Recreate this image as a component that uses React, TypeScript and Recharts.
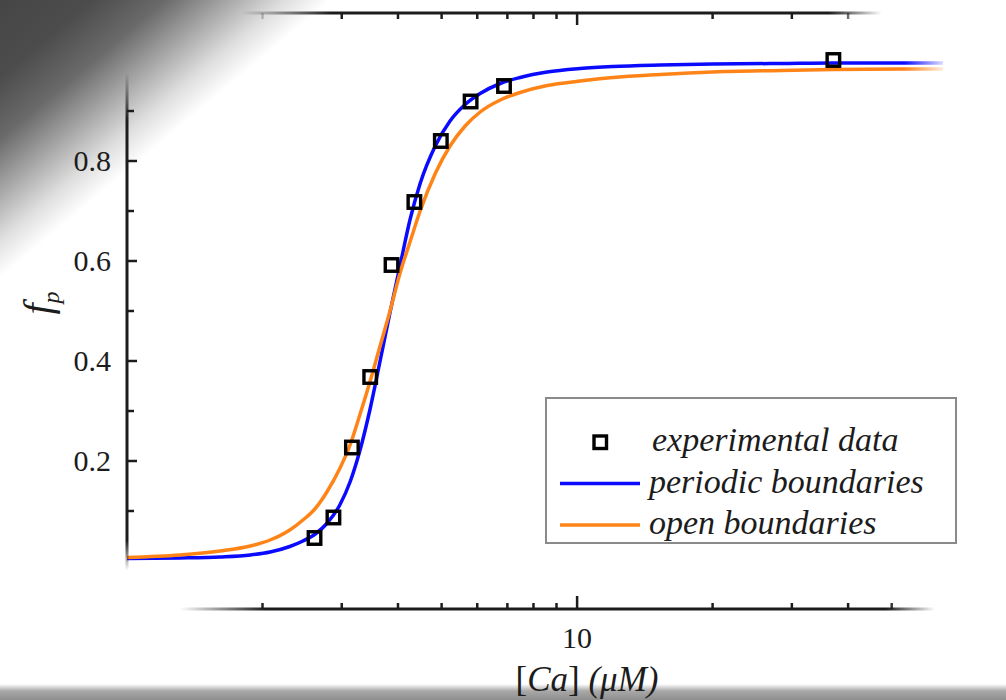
import { ComposedChart, Line, Scatter, XAxis, YAxis } from "recharts";

const caGrid = [
  1, 1.31, 1.61, 1.88, 2.08, 2.3, 2.46, 2.62, 2.78, 2.97, 3.13, 3.29, 3.47,
  3.65, 3.84, 4.04, 4.26, 4.48, 4.84, 5.22, 5.64, 6.09, 6.75, 7.47, 8.58,
  10.15, 12, 15.3, 20, 28.3, 37, 52, 65,
];
const periodicFp = [
  0.005, 0.006, 0.008, 0.012, 0.018, 0.029, 0.04, 0.054, 0.075, 0.112, 0.158,
  0.22, 0.305, 0.4, 0.497, 0.59, 0.685, 0.755, 0.83, 0.88, 0.913, 0.935, 0.955,
  0.967, 0.978, 0.985, 0.989, 0.992, 0.994, 0.995, 0.996, 0.996, 0.996,
];
const openFp = [
  0.007, 0.012, 0.02, 0.03, 0.042, 0.062, 0.082, 0.105, 0.138, 0.185, 0.232,
  0.292, 0.36, 0.43, 0.5, 0.575, 0.64, 0.7, 0.775, 0.83, 0.87, 0.898, 0.922,
  0.937, 0.951, 0.96, 0.967, 0.973, 0.978, 0.981, 0.983, 0.984, 0.984,
];
const expCa = [2.61, 2.875, 3.16, 3.47, 3.87, 4.35, 4.98, 5.8, 6.88, 37.1];
const expFp = [0.046, 0.087, 0.227, 0.368, 0.592, 0.718, 0.84, 0.919, 0.95, 1.002];

const xTicks = [2, 3, 4, 5, 6, 7, 8, 9, 10, 20, 30, 40, 50];
const yTicks = [0.1, 0.2, 0.3, 0.4, 0.5, 0.6, 0.7, 0.8, 0.9];

const periodicData = caGrid.map((x, i) => ({ x, y: periodicFp[i] }));
const openData = caGrid.map((x, i) => ({ x, y: openFp[i] }));
const expData = expCa.map((x, i) => ({ x, y: expFp[i] }));

const FONT = '"Liberation Serif", "Times New Roman", serif';
const INK = "#1c1c1c";
const BLUE = "#0a0aff";
const ORANGE = "#ff8418";

const BottomTick = (props: any) => {
  const { x, y, payload } = props;
  const major = payload.value === 10;
  return (
    <g>
      <line x1={x} x2={x} y1={y} y2={y - (major ? 13 : 6)} stroke="url(#fadeBottom)" strokeWidth={2.5} />
      {major && (
        <text x={x} y={y + 39} textAnchor="middle" fontSize={30} fontFamily={FONT} fill={INK}>
          {payload.value}
        </text>
      )}
    </g>
  );
};

const TopTick = (props: any) => {
  const { x, y, payload } = props;
  const major = payload.value === 10;
  return <line x1={x} x2={x} y1={y} y2={y + (major ? 12 : 6)} stroke="url(#fadeTop)" strokeWidth={2.5} />;
};

const LeftTick = (props: any) => {
  const { x, y, payload } = props;
  const major = Math.round(payload.value * 10) % 2 === 0;
  return (
    <g>
      <line x1={x} x2={x + (major ? 10 : 7)} y1={y} y2={y} stroke={INK} strokeWidth={2.5} />
      {major && (
        <text x={x - 16} y={y + 10} textAnchor="end" fontSize={30} fontFamily={FONT} fill={INK}>
          {payload.value.toFixed(1)}
        </text>
      )}
    </g>
  );
};

const SquareDot = (props: any) => {
  const { cx, cy } = props;
  return <rect x={cx - 6.25} y={cy - 6.25} width={12.5} height={12.5} fill="none" stroke="#000" strokeWidth={3.4} />;
};

const XLabel = (props: any) => {
  const { viewBox } = props;
  return (
    <text x={viewBox.x + 460} y={viewBox.y + 82} textAnchor="middle" fontSize={35} fontFamily={FONT} fill={INK}>
      <tspan>[</tspan>
      <tspan fontStyle="italic">Ca</tspan>
      <tspan>] </tspan>
      <tspan fontStyle="italic">(μM)</tspan>
    </text>
  );
};

const YLabel = (props: any) => {
  const { viewBox } = props;
  const cx = viewBox.x + 24;
  const cy = viewBox.y + 290;
  return (
    <text transform={`translate(${cx},${cy}) rotate(-90)`} textAnchor="middle" fontSize={40} fontFamily={FONT} fontStyle="italic" fill={INK}>
      f<tspan fontSize={24} dy={8}>p</tspan>
    </text>
  );
};

const legendItems = [
  { name: "experimental data", kind: "square", color: "#000" },
  { name: "periodic boundaries", kind: "line", color: BLUE },
  { name: "open boundaries", kind: "line", color: ORANGE },
];

function LegendBox() {
  return (
    <svg width={412} height={148} style={{ position: "absolute", left: 545, top: 397 }}>
      <rect x={1} y={1} width={410} height={145} fill="#fff" stroke="#8a8a8a" strokeWidth={2} />
      {legendItems.map((it, i) => {
        const cy = 45 + i * 41.5;
        return (
          <g key={it.name}>
            {it.kind === "square" ? (
              <rect x={49} y={cy - 6} width={12.5} height={12.5} fill="none" stroke={it.color} strokeWidth={3.4} />
            ) : (
              <line x1={15} x2={95} y1={cy} y2={cy} stroke={it.color} strokeWidth={3.5} />
            )}
            <text x={it.kind === "square" ? 107 : 104} y={cy + 9} fontSize={34} fontFamily={FONT} fontStyle="italic" fill={INK}>
              {it.name}
            </text>
          </g>
        );
      })}
    </svg>
  );
}

export default function App() {
  return (
    <div
      style={{
        position: "absolute",
        left: 0,
        top: 0,
        width: 1006,
        height: 700,
        overflow: "hidden",
        background:
          "linear-gradient(to bottom, rgba(170,170,170,0) 684px, #a8a8a8 691px, #8e8e8e 700px), linear-gradient(140deg, #464646 0%, #4c4c4c 5%, #6a6a6a 9%, #a8a8a8 12.5%, #dedede 15.5%, #ffffff 18%)",
      }}
    >
      <ComposedChart width={1006} height={700} margin={{ top: 12, right: 63, bottom: 0, left: 27 }}>
        <defs>
          <linearGradient id="fadeBottom" gradientUnits="userSpaceOnUse" x1={127} y1={0} x2={943} y2={0}>
            <stop offset="0.065" stopColor={INK} stopOpacity={0} />
            <stop offset="0.17" stopColor={INK} stopOpacity={1} />
            <stop offset="0.93" stopColor={INK} stopOpacity={1} />
            <stop offset="0.99" stopColor={INK} stopOpacity={0} />
          </linearGradient>
          <linearGradient id="fadeTop" gradientUnits="userSpaceOnUse" x1={127} y1={0} x2={943} y2={0}>
            <stop offset="0.14" stopColor={INK} stopOpacity={0} />
            <stop offset="0.25" stopColor={INK} stopOpacity={1} />
            <stop offset="0.86" stopColor={INK} stopOpacity={1} />
            <stop offset="0.925" stopColor={INK} stopOpacity={0} />
          </linearGradient>
          <linearGradient id="fadeLeft" gradientUnits="userSpaceOnUse" x1={0} y1={13} x2={0} y2={609}>
            <stop offset="0.1" stopColor={INK} stopOpacity={0} />
            <stop offset="0.18" stopColor={INK} stopOpacity={1} />
            <stop offset="0.885" stopColor={INK} stopOpacity={1} />
            <stop offset="0.935" stopColor={INK} stopOpacity={0} />
          </linearGradient>
          <linearGradient id="fadeBlue" gradientUnits="userSpaceOnUse" x1={127} y1={0} x2={945} y2={0}>
            <stop offset="0.95" stopColor={BLUE} stopOpacity={1} />
            <stop offset="1" stopColor={BLUE} stopOpacity={0.1} />
          </linearGradient>
          <linearGradient id="fadeOrange" gradientUnits="userSpaceOnUse" x1={127} y1={0} x2={945} y2={0}>
            <stop offset="0.95" stopColor={ORANGE} stopOpacity={1} />
            <stop offset="1" stopColor={ORANGE} stopOpacity={0.1} />
          </linearGradient>
        </defs>
        <XAxis
          xAxisId="bottom"
          dataKey="x"
          type="number"
          scale="log"
          domain={[1, 65]}
          allowDataOverflow
          ticks={xTicks}
          interval={0}
          height={91}
          tickSize={0}
          tickMargin={0}
          tickLine={false}
          tick={BottomTick}
          axisLine={{ stroke: "url(#fadeBottom)", strokeWidth: 3 }}
          label={XLabel}
        />
        <XAxis
          xAxisId="top"
          orientation="top"
          dataKey="x"
          type="number"
          scale="log"
          domain={[1, 65]}
          allowDataOverflow
          ticks={xTicks}
          interval={0}
          height={1}
          tickSize={0}
          tickMargin={0}
          tickLine={false}
          tick={TopTick}
          axisLine={{ stroke: "url(#fadeTop)", strokeWidth: 3 }}
        />
        <YAxis
          yAxisId="left"
          type="number"
          domain={[-0.096, 1.096]}
          allowDataOverflow
          ticks={yTicks}
          interval={0}
          width={100}
          tickSize={0}
          tickMargin={0}
          tickLine={false}
          tick={LeftTick}
          axisLine={{ stroke: "url(#fadeLeft)", strokeWidth: 3 }}
          label={YLabel}
        />
        <Line
          xAxisId="bottom"
          yAxisId="left"
          data={periodicData}
          dataKey="y"
          type="monotone"
          stroke="url(#fadeBlue)"
          strokeWidth={3.5}
          dot={false}
          activeDot={false}
          isAnimationActive={false}
        />
        <Line
          xAxisId="bottom"
          yAxisId="left"
          data={openData}
          dataKey="y"
          type="monotone"
          stroke="url(#fadeOrange)"
          strokeWidth={3.5}
          dot={false}
          activeDot={false}
          isAnimationActive={false}
        />
        <Scatter
          xAxisId="bottom"
          yAxisId="left"
          data={expData}
          dataKey="y"
          shape={SquareDot}
          isAnimationActive={false}
        />
      </ComposedChart>
      <LegendBox />
    </div>
  );
}
